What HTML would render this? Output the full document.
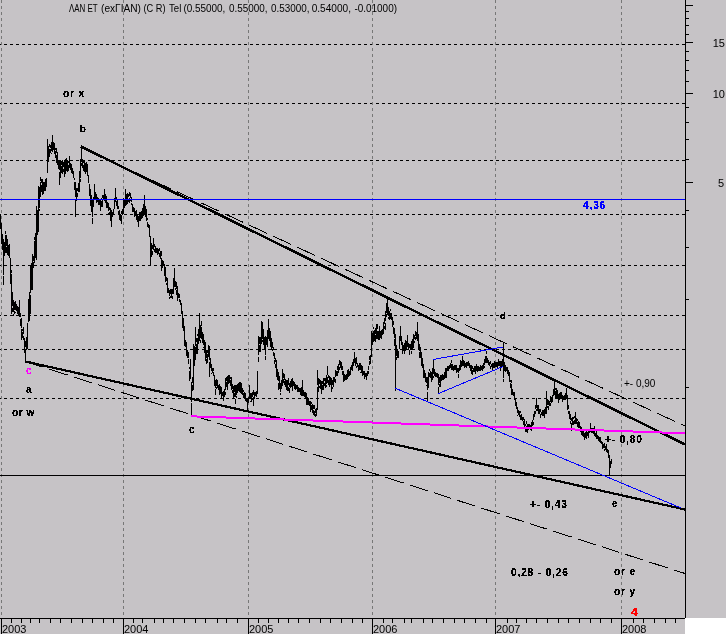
<!DOCTYPE html><html><head><meta charset="utf-8"><style>html,body{margin:0;padding:0;background:#c6c3c6;}svg{display:block;will-change:transform}text{font-family:"Liberation Sans",sans-serif}</style></head><body>
<svg width="726" height="634" viewBox="0 0 726 634">
<defs><filter id="thr" x="-10%" y="-10%" width="120%" height="120%"><feComponentTransfer><feFuncA type="discrete" tableValues="0 1"/></feComponentTransfer></filter><filter id="thb" x="-10%" y="-10%" width="120%" height="120%"><feComponentTransfer><feFuncA type="discrete" tableValues="0 1 1"/></feComponentTransfer></filter></defs>
<rect x="0" y="0" width="726" height="634" fill="#c6c3c6"/>
<rect x="685" y="618" width="41" height="16" fill="#ffffff"/>
<g>
<text x="69" y="12" font-size="10" fill="#000" textLength="28.7" lengthAdjust="spacingAndGlyphs">ΛΑΝ ΕΤ</text>
<text x="101" y="12" font-size="10" fill="#000" textLength="40.0" lengthAdjust="spacingAndGlyphs">(exΓΙΑΝ)</text>
<text x="143.4" y="12" font-size="10" fill="#000" textLength="22.1" lengthAdjust="spacingAndGlyphs">(C R)</text>
<text x="169" y="12" font-size="10" fill="#000" textLength="12.3" lengthAdjust="spacingAndGlyphs">Tel</text>
<text x="183.4" y="12" font-size="10" fill="#000" textLength="42.0" lengthAdjust="spacingAndGlyphs">(0.55000,</text>
<text x="229" y="12" font-size="10" fill="#000" textLength="38.5" lengthAdjust="spacingAndGlyphs">0.55000,</text>
<text x="271" y="12" font-size="10" fill="#000" textLength="38.5" lengthAdjust="spacingAndGlyphs">0.53000,</text>
<text x="311.7" y="12" font-size="10" fill="#000" textLength="39.3" lengthAdjust="spacingAndGlyphs">0.54000,</text>
<text x="354.4" y="12" font-size="10" fill="#000" textLength="42.6" lengthAdjust="spacingAndGlyphs">-0.01000)</text>
</g>
<g shape-rendering="crispEdges"><line x1="0" y1="44.5" x2="685" y2="44.5" stroke="#000" stroke-width="1" stroke-dasharray="3 3" stroke-dashoffset="2"/><line x1="0" y1="103.5" x2="685" y2="103.5" stroke="#000" stroke-width="1" stroke-dasharray="3 3" stroke-dashoffset="2"/><line x1="0" y1="160.5" x2="685" y2="160.5" stroke="#000" stroke-width="1" stroke-dasharray="3 3" stroke-dashoffset="2"/><line x1="0" y1="214.5" x2="685" y2="214.5" stroke="#000" stroke-width="1" stroke-dasharray="3 3" stroke-dashoffset="2"/><line x1="0" y1="265.5" x2="685" y2="265.5" stroke="#000" stroke-width="1" stroke-dasharray="3 3" stroke-dashoffset="2"/><line x1="0" y1="315.5" x2="685" y2="315.5" stroke="#000" stroke-width="1" stroke-dasharray="3 3" stroke-dashoffset="2"/><line x1="0" y1="349.5" x2="685" y2="349.5" stroke="#000" stroke-width="1" stroke-dasharray="3 3" stroke-dashoffset="2"/><line x1="0" y1="398.5" x2="685" y2="398.5" stroke="#000" stroke-width="1" stroke-dasharray="3 3" stroke-dashoffset="2"/><line x1="1.5" y1="0" x2="1.5" y2="618" stroke="#777777" stroke-width="1" stroke-dasharray="3 3"/><line x1="123.5" y1="0" x2="123.5" y2="618" stroke="#777777" stroke-width="1" stroke-dasharray="3 3"/><line x1="248.5" y1="0" x2="248.5" y2="618" stroke="#777777" stroke-width="1" stroke-dasharray="3 3"/><line x1="372.5" y1="0" x2="372.5" y2="618" stroke="#777777" stroke-width="1" stroke-dasharray="3 3"/><line x1="495.5" y1="0" x2="495.5" y2="618" stroke="#777777" stroke-width="1" stroke-dasharray="3 3"/><line x1="621.5" y1="0" x2="621.5" y2="618" stroke="#777777" stroke-width="1" stroke-dasharray="3 3"/><line x1="0" y1="475.5" x2="685" y2="475.5" stroke="#000" stroke-width="1"/></g>
<path d="M0.5 215V229M1.5 223V244M2.5 234V250M3.5 239V275M3.5 276V285M4.5 242V256M5.5 231V234M5.5 235V253M6.5 235V246M6.5 247V253M7.5 239V255M8.5 245V256M9.5 244V258M10.5 258V284M11.5 270V273M11.5 274V314M12.5 292V306M12.5 308V312M13.5 300V312M13.5 314V316M14.5 302V310M14.5 311V314M15.5 301V310M15.5 312V313M16.5 304V311M17.5 306V314M18.5 307V315M19.5 300V317M20.5 313V317M20.5 319V326M21.5 318V328M21.5 329V340M22.5 329V331M22.5 332V338M23.5 327V334M23.5 336V340M24.5 338V353M25.5 341V347M25.5 349V362M26.5 337V350M27.5 323V349M28.5 299V322M29.5 292V321M30.5 265V293M30.5 295V314M31.5 263V290M32.5 254V290M33.5 256V261M33.5 262V268M34.5 237V240M34.5 241V263M35.5 233V258M36.5 206V260M37.5 210V235M38.5 186V232M39.5 187V208M39.5 209V211M40.5 177V181M40.5 182V197M41.5 179V183M41.5 185V192M42.5 179V195M43.5 182V194M44.5 182V191M45.5 179V191M46.5 178V187M47.5 139V173M48.5 146V162M49.5 144V147M49.5 149V157M50.5 145V148M50.5 149V153M51.5 142V151M51.5 153V154M52.5 135V152M53.5 142V150M54.5 143V154M55.5 148V150M55.5 151V158M56.5 148V153M56.5 155V163M57.5 152V165M58.5 160V169M59.5 160V170M59.5 172V185M60.5 160V178M61.5 161V165M61.5 166V173M62.5 160V174M63.5 162V167M63.5 169V172M64.5 161V177M65.5 159V174M66.5 158V171M67.5 160V172M68.5 161V163M68.5 165V171M69.5 156V168M70.5 163V170M71.5 164V173M72.5 168V174M73.5 171V178M74.5 178V180M74.5 182V190M75.5 182V197M75.5 199V217M76.5 188V201M77.5 188V191M77.5 193V197M78.5 183V192M79.5 171V192M80.5 159V178M80.5 179V182M81.5 147V162M81.5 163V166M82.5 159V168M83.5 161V163M83.5 165V171M84.5 161V172M85.5 163V174M86.5 162V172M87.5 164V176M88.5 175V183M89.5 184V196M90.5 189V206M91.5 195V212M92.5 200V217M92.5 218V224M93.5 197V207M94.5 184V200M95.5 192V199M96.5 194V203M97.5 197V202M98.5 198V205M99.5 200V205M100.5 199V211M101.5 198V200M101.5 201V207M102.5 195V198M102.5 200V207M103.5 195V200M104.5 189V201M105.5 194V203M106.5 196V208M107.5 202V208M108.5 203V211M108.5 213V214M109.5 207V210M109.5 212V215M110.5 208V221M111.5 210V227M112.5 212V217M113.5 209V215M114.5 198V209M115.5 188V202M116.5 197V199M116.5 201V206M117.5 200V209M118.5 206V209M118.5 211V214M119.5 210V220M120.5 215V221M121.5 211V214M121.5 215V224M122.5 209V215M123.5 198V214M124.5 199V208M125.5 189V206M126.5 194V205M127.5 193V204M128.5 194V197M128.5 199V202M129.5 192V196M129.5 198V203M130.5 193V198M130.5 199V201M131.5 197V202M131.5 203V205M132.5 204V212M133.5 207V212M134.5 208V217M135.5 211V216M136.5 210V220M137.5 215V222M138.5 216V227M139.5 212V221M140.5 212V221M141.5 211V219M142.5 208V218M143.5 204V216M144.5 195V199M144.5 200V214M145.5 206V217M146.5 209V221M147.5 218V220M147.5 222V227M148.5 224V228M149.5 225V237M150.5 236V265M151.5 243V257M152.5 245V249M152.5 251V255M153.5 238V250M154.5 244V247M154.5 249V252M155.5 246V253M156.5 248V253M157.5 248V255M158.5 249V254M159.5 248V251M159.5 253V257M160.5 251V259M161.5 251V256M161.5 258V271M162.5 260V268M163.5 261V266M164.5 264V276M165.5 267V282M166.5 277V281M166.5 283V285M167.5 278V293M168.5 288V293M169.5 290V296M169.5 297V299M170.5 289V294M170.5 296V298M171.5 289V298M172.5 289V294M172.5 296V299M173.5 278V294M174.5 268V287M175.5 281V287M175.5 288V290M176.5 282V289M176.5 290V295M177.5 286V301M178.5 293V298M179.5 294V298M179.5 299V302M180.5 300V305M181.5 303V314M182.5 311V328M183.5 318V331M184.5 326V346M185.5 340V347M186.5 342V356M187.5 350V358M188.5 352V358M188.5 359V364M189.5 367V369M189.5 371V381M190.5 359V379M191.5 382V402M191.5 403V416M192.5 377V383M192.5 385V391M193.5 344V390M194.5 346V366M195.5 327V346M195.5 347V360M196.5 338V342M196.5 344V354M197.5 334V336M197.5 338V354M198.5 329V344M199.5 313V341M200.5 325V338M200.5 340V343M201.5 321V326M201.5 327V339M202.5 332V343M203.5 334V345M203.5 347V348M204.5 340V353M205.5 342V361M206.5 350V358M206.5 359V364M207.5 350V353M207.5 354V363M208.5 345V357M209.5 346V360M209.5 362V377M210.5 358V368M211.5 364V371M211.5 373V374M212.5 368V373M213.5 368V371M213.5 372V376M214.5 375V386M215.5 380V388M215.5 389V395M216.5 379V386M216.5 387V389M217.5 380V388M218.5 385V390M219.5 384V395M220.5 386V394M221.5 387V398M222.5 392V396M223.5 391V401M224.5 389V397M225.5 378V390M225.5 392V395M226.5 377V381M226.5 382V387M227.5 376V390M228.5 375V384M229.5 375V383M230.5 377V379M230.5 380V386M231.5 377V390M232.5 384V389M232.5 390V393M233.5 386V399M234.5 385V392M234.5 393V397M235.5 385V397M235.5 399V404M236.5 385V395M236.5 396V398M237.5 384V393M238.5 383V391M239.5 382V392M240.5 382V393M241.5 383V394M242.5 388V395M243.5 390V392M243.5 393V398M244.5 392V398M245.5 393V401M246.5 398V402M247.5 398V411M248.5 397V403M249.5 385V399M250.5 393V399M250.5 401V402M251.5 393V402M252.5 392V397M252.5 398V400M253.5 390V395M253.5 397V406M254.5 392V399M255.5 392V396M256.5 391V397M257.5 371V394M258.5 336V355M258.5 357V362M259.5 337V344M259.5 345V352M260.5 337V352M261.5 321V344M262.5 322V339M262.5 340V342M263.5 329V345M264.5 337V350M265.5 336V355M265.5 356V360M266.5 337V345M267.5 330V347M268.5 319V339M269.5 328V341M270.5 331V347M271.5 338V350M272.5 342V348M272.5 349V351M273.5 347V350M273.5 352V356M274.5 353V359M274.5 360V364M275.5 358V362M275.5 364V368M276.5 360V377M277.5 369V380M278.5 372V381M278.5 383V390M279.5 376V389M280.5 383V392M280.5 393V395M281.5 380V389M282.5 369V386M283.5 373V378M283.5 379V383M284.5 374V380M284.5 381V385M285.5 379V387M286.5 380V390M287.5 380V391M288.5 378V385M288.5 387V391M289.5 383V387M289.5 388V393M290.5 381V388M291.5 379V387M292.5 378V391M293.5 381V386M294.5 382V389M295.5 384V390M296.5 385V389M297.5 385V392M298.5 387V392M299.5 388V392M300.5 388V395M301.5 387V396M302.5 380V396M303.5 390V396M304.5 392V397M305.5 392V399M306.5 393V405M307.5 397V405M308.5 398V405M309.5 401V406M310.5 401V412M311.5 402V404M311.5 405V410M312.5 404V413M313.5 405V409M313.5 410V415M314.5 405V409M314.5 411V416M315.5 409V413M315.5 414V417M316.5 408V416M317.5 370V385M317.5 387V410M318.5 378V392M319.5 379V384M319.5 386V388M320.5 380V389M321.5 381V394M322.5 381V384M322.5 385V390M323.5 378V390M324.5 378V381M324.5 383V386M325.5 378V388M326.5 375V384M326.5 385V387M327.5 366V375M327.5 377V383M328.5 375V378M328.5 380V385M329.5 376V387M330.5 377V385M331.5 378V392M332.5 380V385M332.5 387V389M333.5 377V387M334.5 377V382M335.5 370V377M335.5 379V383M336.5 371V376M337.5 366V370M337.5 371V376M338.5 364V373M339.5 360V365M339.5 367V370M340.5 361V368M341.5 362V370M342.5 366V370M342.5 371V375M343.5 371V382M344.5 374V381M345.5 375V380M346.5 374V380M347.5 370V379M348.5 369V377M349.5 371V376M350.5 367V375M351.5 365V370M352.5 362V371M353.5 359V366M354.5 352V363M355.5 358V366M356.5 357V364M356.5 366V368M357.5 363V367M358.5 365V371M359.5 363V370M360.5 363V370M360.5 372V373M361.5 365V373M362.5 366V376M363.5 371V375M364.5 371V379M365.5 373V377M366.5 373V380M367.5 371V376M368.5 366V370M368.5 371V374M369.5 356V360M369.5 361V365M370.5 355V364M371.5 331V357M372.5 333V345M373.5 327V329M373.5 331V342M374.5 330V341M375.5 328V334M375.5 335V342M376.5 324V339M377.5 324V329M377.5 331V339M378.5 331V340M379.5 326V340M380.5 331V338M381.5 330V339M382.5 329V335M383.5 322V334M384.5 318V324M384.5 326V329M385.5 311V321M385.5 323V330M386.5 303V313M386.5 314V317M387.5 298V315M388.5 307V315M388.5 317V319M389.5 311V320M390.5 309V311M390.5 313V319M391.5 313V320M392.5 317V327M393.5 321V325M393.5 327V334M394.5 328V338M394.5 339V346M395.5 334V391M396.5 345V356M396.5 357V360M397.5 349V358M398.5 351V358M399.5 336V349M400.5 326V341M401.5 336V345M402.5 342V354M403.5 345V351M404.5 343V354M405.5 340V351M406.5 341V349M407.5 335V347M407.5 349V350M408.5 343V350M409.5 344V348M409.5 350V355M410.5 344V350M411.5 341V350M411.5 351V354M412.5 339V349M413.5 334V348M414.5 335V339M414.5 341V343M415.5 331V336M415.5 337V340M416.5 332V339M417.5 322V341M418.5 334V349M419.5 344V351M419.5 352V358M420.5 347V358M421.5 352V366M422.5 358V368M423.5 364V378M424.5 370V378M425.5 373V382M426.5 377V383M426.5 385V386M427.5 377V390M427.5 392V402M428.5 372V388M429.5 369V371M429.5 373V377M430.5 371V378M431.5 372V382M432.5 368V380M433.5 359V374M433.5 376V378M434.5 369V376M435.5 372V377M436.5 373V377M437.5 373V378M438.5 374V385M438.5 387V393M439.5 377V383M439.5 384V387M440.5 375V387M441.5 375V381M442.5 374V380M443.5 375V380M444.5 372V379M445.5 368V378M446.5 368V378M447.5 366V371M448.5 366V371M449.5 365V369M450.5 363V368M451.5 360V363M451.5 364V370M452.5 364V370M453.5 366V371M454.5 365V370M455.5 365V370M456.5 365V373M457.5 368V372M458.5 368V373M458.5 374V378M459.5 365V371M460.5 360V370M461.5 361V367M462.5 356V366M463.5 360V366M464.5 361V368M465.5 363V367M466.5 362V368M467.5 362V366M468.5 361V366M469.5 363V368M470.5 365V371M471.5 365V374M472.5 366V369M472.5 370V375M473.5 368V372M474.5 366V372M475.5 366V374M476.5 364V371M477.5 366V372M478.5 366V371M479.5 367V371M480.5 365V371M481.5 366V370M482.5 365V371M483.5 363V369M484.5 359V365M484.5 366V368M485.5 356V363M486.5 351V354M486.5 356V363M487.5 358V363M488.5 360V365M489.5 362V366M490.5 361V364M490.5 366V369M491.5 364V367M492.5 363V370M493.5 363V368M494.5 361V368M495.5 362V367M496.5 362V367M497.5 362V368M498.5 359V366M499.5 361V366M500.5 361V371M501.5 361V367M502.5 359V366M503.5 342V378M503.5 379V382M504.5 362V371M505.5 365V372M506.5 367V371M507.5 367V374M508.5 370V376M509.5 372V382M510.5 380V382M510.5 383V388M511.5 380V383M511.5 384V395M512.5 389V395M513.5 392V396M514.5 392V400M515.5 399V406M516.5 402V409M517.5 407V413M517.5 415V416M518.5 410V415M519.5 411V417M520.5 411V413M520.5 415V420M521.5 414V420M522.5 417V421M523.5 417V420M523.5 421V425M524.5 419V427M525.5 424V426M525.5 428V432M526.5 421V424M526.5 426V432M527.5 424V433M528.5 424V430M529.5 424V429M530.5 425V430M531.5 422V431M532.5 420V426M533.5 414V420M533.5 422V425M534.5 411V417M535.5 405V409M535.5 411V414M536.5 398V408M536.5 409V411M537.5 405V411M538.5 405V414M539.5 409V414M540.5 409V412M540.5 414V418M541.5 412V415M542.5 410V416M543.5 410V416M544.5 409V418M545.5 407V414M546.5 391V414M547.5 399V405M547.5 406V408M548.5 400V405M548.5 406V410M549.5 401V406M550.5 396V402M550.5 403V406M551.5 397V403M552.5 395V402M553.5 389V396M554.5 381V395M555.5 388V390M555.5 391V399M556.5 388V398M557.5 390V399M558.5 394V403M559.5 393V400M560.5 392V399M561.5 392V399M562.5 395V402M563.5 396V400M564.5 395V400M565.5 393V400M566.5 388V399M567.5 395V410M568.5 405V409M568.5 411V414M569.5 411V419M570.5 414V420M570.5 421V424M571.5 418V421M571.5 423V431M572.5 417V425M573.5 417V419M573.5 421V425M574.5 416V418M574.5 420V424M575.5 412V424M576.5 418V424M577.5 419V421M577.5 422V427M578.5 421V428M579.5 422V428M580.5 426V432M581.5 427V435M582.5 430V436M583.5 431V437M584.5 433V440M585.5 432V438M586.5 431V439M587.5 432V436M588.5 430V438M589.5 429V433M590.5 423V432M591.5 428V433M592.5 428V433M593.5 428V434M594.5 426V436M595.5 433V437M596.5 430V439M597.5 435V439M598.5 436V441M599.5 437V442M600.5 437V443M601.5 441V444M602.5 442V449M603.5 444V448M604.5 443V448M604.5 449V451M605.5 446V450M606.5 444V452M607.5 449V453M608.5 450V458M609.5 455V475M610.5 461V468M611.5 459V464" stroke="#000" stroke-width="1" fill="none" shape-rendering="crispEdges"/>
<line x1="81" y1="146.5" x2="685" y2="444.5" stroke="#000" stroke-width="2.5" shape-rendering="crispEdges"/>
<line x1="81" y1="147.5" x2="685" y2="426.1" stroke="#000" stroke-width="1" stroke-dasharray="19.83 6.61" shape-rendering="crispEdges"/>
<line x1="25.5" y1="361.5" x2="685" y2="509.5" stroke="#000" stroke-width="2.2" shape-rendering="crispEdges"/>
<line x1="25.5" y1="361.5" x2="685" y2="573.5" stroke="#000" stroke-width="1" stroke-dasharray="18.91 6.30" shape-rendering="crispEdges"/>
<line x1="191" y1="416.3" x2="685" y2="433.3" stroke="#ff00ff" stroke-width="2" shape-rendering="crispEdges"/>
<line x1="0" y1="199.5" x2="685" y2="199.5" stroke="#0000ff" stroke-width="1" shape-rendering="crispEdges"/>
<line x1="395.5" y1="388.3" x2="681.5" y2="508.2" stroke="#0000ff" stroke-width="1" shape-rendering="crispEdges"/>
<line x1="433" y1="359.5" x2="503" y2="347" stroke="#0000ff" stroke-width="1" shape-rendering="crispEdges"/>
<line x1="438.5" y1="393.5" x2="503" y2="366.5" stroke="#0000ff" stroke-width="1" shape-rendering="crispEdges"/>
<g shape-rendering="crispEdges" stroke="#000" stroke-width="1"><line x1="685.5" y1="0" x2="685.5" y2="618"/><line x1="0" y1="618.5" x2="685" y2="618.5"/><line x1="686" y1="5.5" x2="693" y2="5.5"/><line x1="686" y1="42.5" x2="693" y2="42.5"/><line x1="686" y1="93.5" x2="693" y2="93.5"/><line x1="686" y1="182.5" x2="693" y2="182.5"/><line x1="686" y1="11.5" x2="689" y2="11.5"/><line x1="686" y1="18.5" x2="689" y2="18.5"/><line x1="686" y1="25.5" x2="689" y2="25.5"/><line x1="686" y1="34.5" x2="689" y2="34.5"/><line x1="686" y1="51.5" x2="689" y2="51.5"/><line x1="686" y1="60.5" x2="689" y2="60.5"/><line x1="686" y1="70.5" x2="689" y2="70.5"/><line x1="686" y1="81.5" x2="689" y2="81.5"/><line x1="686" y1="107.5" x2="689" y2="107.5"/><line x1="686" y1="122.5" x2="689" y2="122.5"/><line x1="686" y1="139.5" x2="689" y2="139.5"/><line x1="686" y1="159.5" x2="689" y2="159.5"/><line x1="686" y1="210.5" x2="689" y2="210.5"/><line x1="686" y1="247.5" x2="689" y2="247.5"/><line x1="686" y1="299.5" x2="689" y2="299.5"/><line x1="686" y1="387.5" x2="689" y2="387.5"/><line x1="1.5" y1="619" x2="1.5" y2="634"/><line x1="123.5" y1="619" x2="123.5" y2="634"/><line x1="248.5" y1="619" x2="248.5" y2="634"/><line x1="372.5" y1="619" x2="372.5" y2="634"/><line x1="495.5" y1="619" x2="495.5" y2="634"/><line x1="621.5" y1="619" x2="621.5" y2="634"/><line x1="11.5" y1="619" x2="11.5" y2="623"/><line x1="21.5" y1="619" x2="21.5" y2="623"/><line x1="30.5" y1="619" x2="30.5" y2="623"/><line x1="39.5" y1="619" x2="39.5" y2="623"/><line x1="50.5" y1="619" x2="50.5" y2="623"/><line x1="60.5" y1="619" x2="60.5" y2="623"/><line x1="71.5" y1="619" x2="71.5" y2="623"/><line x1="82.5" y1="619" x2="82.5" y2="623"/><line x1="92.5" y1="619" x2="92.5" y2="623"/><line x1="103.5" y1="619" x2="103.5" y2="623"/><line x1="113.5" y1="619" x2="113.5" y2="623"/><line x1="133.5" y1="619" x2="133.5" y2="623"/><line x1="142.5" y1="619" x2="142.5" y2="623"/><line x1="154.5" y1="619" x2="154.5" y2="623"/><line x1="163.5" y1="619" x2="163.5" y2="623"/><line x1="173.5" y1="619" x2="173.5" y2="623"/><line x1="184.5" y1="619" x2="184.5" y2="623"/><line x1="195.5" y1="619" x2="195.5" y2="623"/><line x1="205.5" y1="619" x2="205.5" y2="623"/><line x1="217.5" y1="619" x2="217.5" y2="623"/><line x1="226.5" y1="619" x2="226.5" y2="623"/><line x1="237.5" y1="619" x2="237.5" y2="623"/><line x1="258.5" y1="619" x2="258.5" y2="623"/><line x1="268.5" y1="619" x2="268.5" y2="623"/><line x1="278.5" y1="619" x2="278.5" y2="623"/><line x1="288.5" y1="619" x2="288.5" y2="623"/><line x1="298.5" y1="619" x2="298.5" y2="623"/><line x1="309.5" y1="619" x2="309.5" y2="623"/><line x1="320.5" y1="619" x2="320.5" y2="623"/><line x1="330.5" y1="619" x2="330.5" y2="623"/><line x1="341.5" y1="619" x2="341.5" y2="623"/><line x1="352.5" y1="619" x2="352.5" y2="623"/><line x1="362.5" y1="619" x2="362.5" y2="623"/><line x1="383.5" y1="619" x2="383.5" y2="623"/><line x1="392.5" y1="619" x2="392.5" y2="623"/><line x1="404.5" y1="619" x2="404.5" y2="623"/><line x1="411.5" y1="619" x2="411.5" y2="623"/><line x1="423.5" y1="619" x2="423.5" y2="623"/><line x1="432.5" y1="619" x2="432.5" y2="623"/><line x1="443.5" y1="619" x2="443.5" y2="623"/><line x1="454.5" y1="619" x2="454.5" y2="623"/><line x1="464.5" y1="619" x2="464.5" y2="623"/><line x1="475.5" y1="619" x2="475.5" y2="623"/><line x1="486.5" y1="619" x2="486.5" y2="623"/><line x1="507.5" y1="619" x2="507.5" y2="623"/><line x1="516.5" y1="619" x2="516.5" y2="623"/><line x1="526.5" y1="619" x2="526.5" y2="623"/><line x1="536.5" y1="619" x2="536.5" y2="623"/><line x1="547.5" y1="619" x2="547.5" y2="623"/><line x1="558.5" y1="619" x2="558.5" y2="623"/><line x1="568.5" y1="619" x2="568.5" y2="623"/><line x1="579.5" y1="619" x2="579.5" y2="623"/><line x1="590.5" y1="619" x2="590.5" y2="623"/><line x1="600.5" y1="619" x2="600.5" y2="623"/><line x1="611.5" y1="619" x2="611.5" y2="623"/><line x1="633.5" y1="619" x2="633.5" y2="623"/><line x1="643.5" y1="619" x2="643.5" y2="623"/><line x1="654.5" y1="619" x2="654.5" y2="623"/><line x1="665.5" y1="619" x2="665.5" y2="623"/><line x1="675.5" y1="619" x2="675.5" y2="623"/></g>
<g>
<text x="725" y="47" font-size="11" text-anchor="end" fill="#000">15</text>
<text x="725" y="98" font-size="11" text-anchor="end" fill="#000">10</text>
<text x="724" y="187" font-size="11" text-anchor="end" fill="#000">5</text>
<text x="2" y="633" font-size="11" fill="#000">2003</text>
<text x="124" y="633" font-size="11" fill="#000">2004</text>
<text x="249" y="633" font-size="11" fill="#000">2005</text>
<text x="373" y="633" font-size="11" fill="#000">2006</text>
<text x="496" y="633" font-size="11" fill="#000">2007</text>
<text x="622" y="633" font-size="11" fill="#000">2008</text>
</g>
<g filter="url(#thb)">
<text x="63" y="97" font-size="10" font-weight="bold" fill="#000" text-anchor="start" letter-spacing="0.9">or x</text>
<text x="80" y="132" font-size="9.5" font-weight="bold" fill="#000" text-anchor="start" letter-spacing="0.9">b</text>
<text x="26" y="374" font-size="10" font-weight="bold" fill="#ff00ff" text-anchor="start" letter-spacing="0.9">c</text>
<text x="26" y="393" font-size="10" font-weight="bold" fill="#000" text-anchor="start" letter-spacing="0.9">a</text>
<text x="12" y="416" font-size="10" font-weight="bold" fill="#000" text-anchor="start" letter-spacing="0.6">or w</text>
<text x="189" y="433" font-size="10" font-weight="bold" fill="#000" text-anchor="start" letter-spacing="0.9">c</text>
<text x="500" y="319" font-size="9.5" font-weight="bold" fill="#000" text-anchor="start" letter-spacing="0.9">d</text>
<text x="583" y="209" font-size="10" font-weight="bold" fill="#0000ff" text-anchor="start" letter-spacing="0.9">4,36</text>
<text x="605" y="443" font-size="10" font-weight="bold" fill="#000" text-anchor="start" letter-spacing="0.9">+- 0,80</text>
<text x="530" y="508" font-size="10" font-weight="bold" fill="#000" text-anchor="start" letter-spacing="0.9">+- 0,43</text>
<text x="612" y="507" font-size="10" font-weight="bold" fill="#000" text-anchor="start" letter-spacing="0.9">e</text>
<text x="511" y="576" font-size="10" font-weight="bold" fill="#000" text-anchor="start" letter-spacing="0.9">0,28 - 0,26</text>
<text x="614" y="575" font-size="10" font-weight="bold" fill="#000" text-anchor="start" letter-spacing="0.9">or e</text>
<text x="614" y="595" font-size="10" font-weight="bold" fill="#000" text-anchor="start" letter-spacing="0.9">or y</text>
<text x="631" y="616" font-size="10" font-weight="bold" fill="#ff0000" textLength="6.5" lengthAdjust="spacingAndGlyphs">4</text>
</g>
<text x="624" y="387" font-size="10" font-weight="normal" fill="#000" text-anchor="start" letter-spacing="0">+- 0,90</text>
</svg></body></html>
